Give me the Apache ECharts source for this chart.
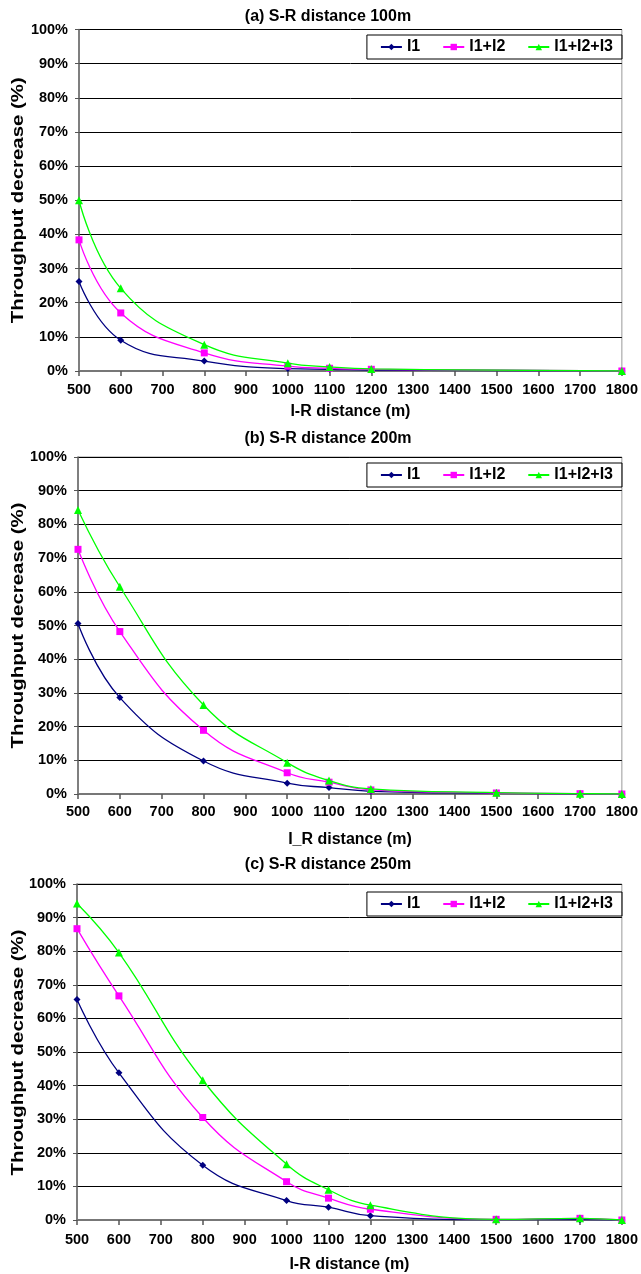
<!DOCTYPE html>
<html>
<head>
<meta charset="utf-8">
<script src="https://cdn.jsdelivr.net/npm/echarts@6/dist/echarts.min.js"></script>
<style>
html,body{margin:0;padding:0;background:#fff;}
#c{width:641px;height:1274px;}
</style>
</head>
<body>
<div id="c"></div>
<script>
// ---- data ----
const titles = ['(a) S-R distance 100m', '(b) S-R distance 200m', '(c) S-R distance 250m'];
const xNames = ['I-R distance (m)', 'I_R distance (m)', 'I-R distance (m)'];
const yName = 'Throughput decrease (%)';
const seriesNames = ['I1', 'I1+I2', 'I1+I2+I3'];

const xA = [500, 600, 800, 1000, 1100, 1200, 1800];
const aI1 = [26.2, 9.0, 2.9, 0.7, 0.5, 0.3, 0];
const aI12 = [38.4, 17.0, 5.3, 1.4, 0.8, 0.5, 0];
const aI123 = [50.0, 24.2, 7.7, 2.3, 1.2, 0.6, 0];

const xB = [500, 600, 800, 1000, 1100, 1200, 1500, 1700, 1800];
const bI1 = [50.6, 28.6, 9.8, 3.2, 1.9, 0.8, 0.2, 0.05, 0];
const bI12 = [72.6, 48.2, 18.9, 6.3, 3.5, 1.2, 0.3, 0.1, 0];
const bI123 = [84.3, 61.5, 26.4, 9.3, 4.0, 1.5, 0.4, 0.1, 0];

const xC = [500, 600, 800, 1000, 1100, 1200, 1500, 1700, 1800];
const cI1 = [65.6, 43.8, 16.3, 5.8, 3.8, 1.3, 0.1, 0.1, 0];
const cI12 = [86.7, 66.7, 30.5, 11.4, 6.5, 3.2, 0.2, 0.5, 0];
const cI123 = [94.2, 79.6, 41.6, 16.6, 9.0, 4.4, 0.2, 0.5, 0];

// ---- layout ----
const FONT = 'Liberation Sans, Arial, sans-serif';
const panels = [
  {x: xA, ys: [aI1, aI12, aI123], top: 29.5, height: 341.5, left: 79, right: 17, titleTop: 4, legendTop: 35, labelMargin: 11, xNameGap: 33},
  {x: xB, ys: [bI1, bI12, bI123], top: 457, height: 337, left: 78, right: 17, titleTop: 426, legendTop: 463, labelMargin: 10, xNameGap: 38},
  {x: xC, ys: [cI1, cI12, cI123], top: 884, height: 337, left: 77, right: 18, titleTop: 852, legendTop: 892, labelMargin: 12, xNameGap: 37}
];
const colors = ['#000080', '#FF00FF', '#00FF00'];
const symbols = ['diamond', 'rect', 'triangle'];
const symSizes = [7, 7, 8];

const grid = [], xAxis = [], yAxis = [], series = [], title = [], legend = [], graphic = [];
panels.forEach((p, i) => {
  grid.push({left: p.left, right: p.right, top: p.top, height: p.height, show: true, borderColor: '#999', borderWidth: 1, containLabel: false});
  title.push({text: titles[i], left: 323, top: p.titleTop, textAlign: 'center',
    textStyle: {fontFamily: FONT, fontWeight: 'bold', fontSize: 16, color: '#000'}});
  xAxis.push({type: 'value', gridIndex: i, min: 500, max: 1800, interval: 100,
    name: xNames[i], nameLocation: 'middle', nameGap: p.xNameGap,
    nameTextStyle: {fontFamily: FONT, fontWeight: 'bold', fontSize: 16, color: '#000'},
    axisLine: {show: true, onZero: false, lineStyle: {color: '#777', width: 2}},
    axisTick: {show: true, length: 5, lineStyle: {color: '#555', width: 1.5}},
    axisLabel: {fontFamily: FONT, fontWeight: 'bold', fontSize: 14.5, color: '#000', margin: p.labelMargin,
      formatter: v => String(v)},
    splitLine: {show: false}});
  yAxis.push({type: 'value', gridIndex: i, min: 0, max: 100, interval: 10,
    axisLine: {show: true, lineStyle: {color: '#666', width: 1.5}},
    axisTick: {show: true, length: 4, lineStyle: {color: '#555'}},
    axisLabel: {fontFamily: FONT, fontWeight: 'bold', fontSize: 14.5, color: '#000', formatter: '{value}%', margin: 11},
    splitLine: {show: true, lineStyle: {color: '#000', width: 1}}});
  // rotated y-axis title (slightly stretched along its length like the reference)
  graphic.push({type: 'text', x: 18, y: p.top + p.height / 2, rotation: Math.PI / 2,
    scaleX: 1.2, scaleY: 1,
    style: {text: yName, font: 'bold 17px ' + FONT, fill: '#000', align: 'center', verticalAlign: 'middle'}});
  const names = seriesNames.map(n => n + '\u200b'.repeat(i));
  legend.push({data: names, right: 19, top: p.legendTop, orient: 'horizontal',
    borderColor: '#000', borderWidth: 1, padding: [4, 9, 4, 13], itemGap: 22,
    itemWidth: 21, itemHeight: 8,
    textStyle: {fontFamily: FONT, fontWeight: 'bold', fontSize: 16, color: '#000'},
    formatter: n => n.replace(/\u200b/g, '')});
  p.ys.forEach((ys, k) => {
    series.push({type: 'line', name: names[k], xAxisIndex: i, yAxisIndex: i,
      data: p.x.map((xv, j) => [xv, ys[j]]),
      smooth: 0.45, symbol: symbols[k], symbolSize: symSizes[k], showSymbol: true,
      lineStyle: {color: colors[k], width: 1.3}, itemStyle: {color: colors[k]},
      z: 3 + k});
  });
});

const chart = echarts.init(document.getElementById('c'), null, {renderer: 'canvas'});
chart.setOption({animation: false, backgroundColor: '#fff', title, grid, xAxis, yAxis, legend, series, graphic});
</script>
</body>
</html>
